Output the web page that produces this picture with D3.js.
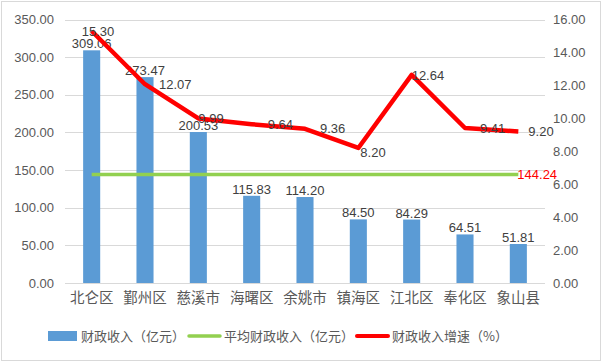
<!DOCTYPE html>
<html>
<head>
<meta charset="utf-8">
<script src="https://cdn.jsdelivr.net/npm/d3@7"></script>
<style>
  body { margin: 0; background: #fff; }
</style>
</head>
<body>
<div id="chart"></div>
<script>
// Data
const districts = ["北仑区", "鄞州区", "慈溪市", "海曙区", "余姚市", "镇海区", "江北区", "奉化区", "象山县"];
const revenue = [309.06, 273.47, 200.53, 115.83, 114.20, 84.50, 84.29, 64.51, 51.81];
const growth = [15.30, 12.07, 9.99, 9.64, 9.36, 8.20, 12.64, 9.41, 9.20];
const averageRevenue = 144.24;
const leftTicks = [0, 50, 100, 150, 200, 250, 300, 350];
const rightTicks = [0, 2, 4, 6, 8, 10, 12, 14, 16];
const seriesNames = ["财政收入（亿元）", "平均财政收入（亿元）", "财政收入增速（%）"];

// label nudges for the line labels (dx, dy), like Excel's hand-moved labels
const growthLabelNudge = [[-10, 0], [14, 0], [0, 0], [16, 0], [15, 0], [2, 4], [0, 1], [15, 0], [10, 0]];

const width = 602;
const height = 362;
const marginTop = 19.5;
const marginLeft = 65;
const marginRight = 57;
const plotBottom = 283;

const numFont = "'Liberation Sans', Arial, sans-serif";
const cjkFont = "'Noto Sans CJK SC', 'Noto Sans', sans-serif";

const x = d3.scaleBand()
    .domain(districts)
    .range([marginLeft, width - marginRight])
    .paddingInner(0.68)
    .paddingOuter(0.34);

const step = x.step();
const center = d => x(d) + x.bandwidth() / 2;

const y = d3.scaleLinear().domain([0, 350]).range([plotBottom, marginTop]);
const y2 = d3.scaleLinear().domain([0, 16]).range([plotBottom, marginTop]);

const svg = d3.select("#chart")
    .append("svg")
        .attr("width", width)
        .attr("height", height)
        .attr("viewBox", [0, 0, width, height]);

// outer frame
svg.append("rect")
    .attr("x", 1.5).attr("y", 1.5)
    .attr("width", width - 3).attr("height", height - 3)
    .attr("fill", "#fff")
    .attr("stroke", "#D9D9D9");

// gridlines
svg.append("g")
    .selectAll("line")
    .data(leftTicks)
    .join("line")
    .attr("x1", marginLeft)
    .attr("x2", width - marginRight)
    .attr("y1", d => Math.round(y(d)) + 0.5)
    .attr("y2", d => Math.round(y(d)) + 0.5)
    .attr("stroke", "#D9D9D9");

// left axis
svg.append("g")
    .attr("transform", `translate(${marginLeft - 11},0)`)
    .call(d3.axisLeft(y).tickValues(leftTicks).tickFormat(d3.format(".2f")).tickSize(0).tickPadding(0))
    .call(g => g.select(".domain").remove())
    .call(g => g.selectAll("text")
        .attr("fill", "#595959")
        .attr("font-family", numFont)
        .attr("font-size", 13));

// right axis
svg.append("g")
    .attr("transform", `translate(${width - marginRight + 8},0)`)
    .call(d3.axisRight(y2).tickValues(rightTicks).tickFormat(d3.format(".2f")).tickSize(0).tickPadding(0))
    .call(g => g.select(".domain").remove())
    .call(g => g.selectAll("text")
        .attr("fill", "#595959")
        .attr("font-family", numFont)
        .attr("font-size", 13));

// category axis
svg.append("g")
    .attr("transform", `translate(0,${plotBottom})`)
    .call(d3.axisBottom(x).tickSize(0).tickPadding(10))
    .call(g => g.select(".domain").remove())
    .call(g => g.selectAll("text")
        .attr("fill", "#595959")
        .attr("font-family", cjkFont)
        .attr("font-size", 14.5));

// bars
svg.append("g")
    .attr("fill", "#5B9BD5")
    .selectAll("rect")
    .data(revenue)
    .join("rect")
    .attr("x", (d, i) => x(districts[i]))
    .attr("y", d => y(d))
    .attr("width", x.bandwidth())
    .attr("height", d => y(0) - y(d));

// bar labels
svg.append("g")
    .attr("font-family", numFont)
    .attr("font-size", 13)
    .attr("fill", "#404040")
    .attr("text-anchor", "middle")
    .selectAll("text")
    .data(revenue)
    .join("text")
    .attr("x", (d, i) => center(districts[i]))
    .attr("y", d => y(d) - 2)
    .text(d => d3.format(".2f")(d));

// average line
svg.append("line")
    .attr("x1", center(districts[0]))
    .attr("x2", center(districts[districts.length - 1]))
    .attr("y1", y(averageRevenue))
    .attr("y2", y(averageRevenue))
    .attr("stroke", "#92D050")
    .attr("stroke-width", 3.5);

svg.append("text")
    .attr("x", center(districts[districts.length - 1]) - 1)
    .attr("y", y(averageRevenue))
    .attr("dy", "0.35em")
    .attr("font-family", numFont)
    .attr("font-size", 13)
    .attr("fill", "#FF0000")
    .text(d3.format(".2f")(averageRevenue));

// growth line
const line = d3.line()
    .x((d, i) => center(districts[i]))
    .y(d => y2(d));

svg.append("path")
    .datum(growth)
    .attr("fill", "none")
    .attr("stroke", "#FF0000")
    .attr("stroke-width", 4.5)
    .attr("stroke-linejoin", "round")
    .attr("d", line);

svg.append("g")
    .attr("font-family", numFont)
    .attr("font-size", 13)
    .attr("fill", "#404040")
    .selectAll("text")
    .data(growth)
    .join("text")
    .attr("x", (d, i) => center(districts[i]) + growthLabelNudge[i][0])
    .attr("y", (d, i) => y2(d) + growthLabelNudge[i][1])
    .attr("dy", "0.35em")
    .text(d => d3.format(".2f")(d));

// legend
const legend = svg.append("g")
    .attr("font-family", cjkFont)
    .attr("font-size", 13)
    .attr("fill", "#595959");
const legendY = 336;

legend.append("rect")
    .attr("x", 48).attr("y", legendY - 5)
    .attr("width", 29).attr("height", 10)
    .attr("fill", "#5B9BD5");
legend.append("text").attr("x", 81).attr("y", legendY).attr("dy", "0.35em").text(seriesNames[0]);

legend.append("line")
    .attr("x1", 189).attr("x2", 220)
    .attr("y1", legendY).attr("y2", legendY)
    .attr("stroke", "#92D050").attr("stroke-width", 3.5).attr("stroke-linecap", "round");
legend.append("text").attr("x", 224).attr("y", legendY).attr("dy", "0.35em").text(seriesNames[1]);

legend.append("line")
    .attr("x1", 357).attr("x2", 388)
    .attr("y1", legendY).attr("y2", legendY)
    .attr("stroke", "#FF0000").attr("stroke-width", 4).attr("stroke-linecap", "round");
legend.append("text").attr("x", 392).attr("y", legendY).attr("dy", "0.35em").text(seriesNames[2]);
</script>
</body>
</html>
